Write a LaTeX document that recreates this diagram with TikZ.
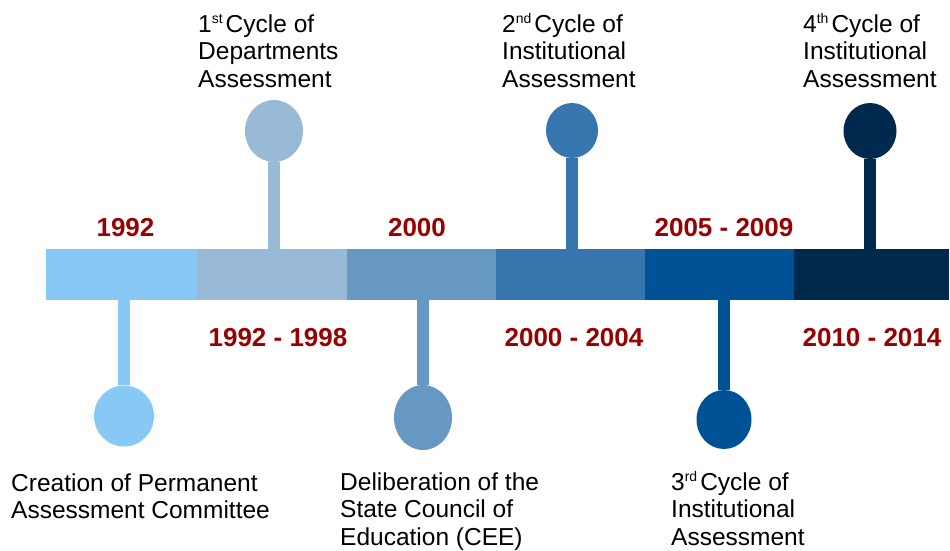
\documentclass[tikz,border=0pt]{standalone}
\usepackage{fontspec}
\setmainfont{Liberation Sans}
\usetikzlibrary{shapes.geometric}

\definecolor{tone1}{HTML}{87C8F5}
\definecolor{tone2}{HTML}{99BAD6}
\definecolor{tone3}{HTML}{6698C3}
\definecolor{tone4}{HTML}{3775AE}
\definecolor{tone5}{HTML}{005296}
\definecolor{tone6}{HTML}{002A4D}
\definecolor{yearred}{HTML}{9A0000}

\newcommand{\ordsup}[1]{\raisebox{8.5pt}{\fontsize{14}{14}\selectfont #1}\kern3pt}

\begin{document}
\begin{tikzpicture}[x=1pt,y=-1pt,
    seg/.style={rectangle,inner sep=0pt,minimum height=51pt},
    dot/.style={ellipse,inner sep=0pt},
    stem/.style={line width=12pt},
    year/.style={font=\fontsize{26}{28}\selectfont\bfseries,text=yearred},
    event/.style={anchor=base west,align=left,inner sep=0pt,font=\fontsize{24.5}{27.5}\selectfont}]
  \useasboundingbox (0,0) rectangle (950,550);

  % the bar
  \node[seg,fill=tone1,minimum width=151pt] (b1) at (121.5,274.5) {};
  \node[seg,fill=tone2,minimum width=150pt] (b2) at (272,274.5) {};
  \node[seg,fill=tone3,minimum width=149pt] (b3) at (421.5,274.5) {};
  \node[seg,fill=tone4,minimum width=149pt] (b4) at (570.5,274.5) {};
  \node[seg,fill=tone5,minimum width=149pt] (b5) at (719.5,274.5) {};
  \node[seg,fill=tone6,minimum width=155pt] (b6) at (871.5,274.5) {};

  % pins
  \node[dot,fill=tone1,minimum width=60pt,minimum height=61pt] (d1) at (124,416) {};
  \node[dot,fill=tone2,minimum width=58pt,minimum height=62pt] (d2) at (274,131) {};
  \node[dot,fill=tone3,minimum width=58pt,minimum height=65pt] (d3) at (423,417.5) {};
  \node[dot,fill=tone4,minimum width=52pt,minimum height=55pt] (d4) at (572,130.5) {};
  \node[dot,fill=tone5,minimum width=55pt,minimum height=59pt] (d5) at (724,419.5) {};
  \node[dot,fill=tone6,minimum width=53pt,minimum height=56pt] (d6) at (870,131) {};

  \draw[stem,tone1] (d1.north) -- (d1.north |- b1.south);
  \draw[stem,tone2] (d2.south) -- (d2.south |- b2.north);
  \draw[stem,tone3] (d3.north) -- (d3.north |- b3.south);
  \draw[stem,tone4] (d4.south) -- (d4.south |- b4.north);
  \draw[stem,tone5] (d5.north) -- (d5.north |- b5.south);
  \draw[stem,tone6] (d6.south) -- (d6.south |- b6.north);

  % years
  \node[year] (y1) at (125.5,228) {1992};
  \node[year] (y2) at (278,338) {1992 - 1998};
  \node[year] (y3) at (417,228) {2000};
  \node[year] (y4) at (574,338) {2000 - 2004};
  \node[year] (y5) at (724,228) {2005 - 2009};
  \node[year] (y6) at (872,338) {2010 - 2014};

  % events (anchored at the baseline of the last line)
  \node[event] (e1) at (11,518.5) {Creation of Permanent\\Assessment Committee};
  \node[event] (e2) at (198,87) {1\ordsup{st}Cycle of\\Departments\\Assessment};
  \node[event] (e3) at (340,545) {Deliberation of the\\State Council of\\Education (CEE)};
  \node[event] (e4) at (502,87) {2\ordsup{nd}Cycle of\\Institutional\\Assessment};
  \node[event] (e5) at (671,545) {3\ordsup{rd}Cycle of\\Institutional\\Assessment};
  \node[event] (e6) at (803,87) {4\ordsup{th}Cycle of\\Institutional\\Assessment};
\end{tikzpicture}
\end{document}
